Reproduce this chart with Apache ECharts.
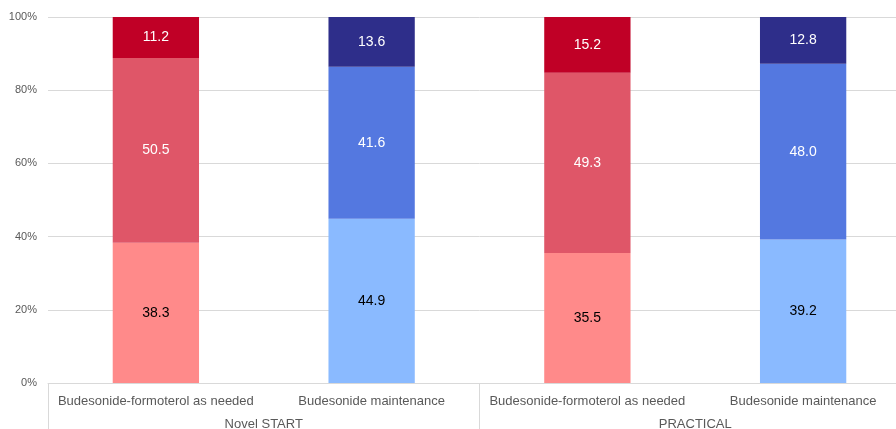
<!DOCTYPE html>
<html>
<head>
<meta charset="utf-8">
<title>Stacked bars</title>
<script src="https://cdn.jsdelivr.net/npm/echarts@6/dist/echarts.min.js"></script>
<style>
  html, body { margin: 0; padding: 0; background: #ffffff; overflow: hidden; }
  #wrap { width: 896px; height: 429px; overflow: hidden; }
  /* the plot runs a little past the right edge, like the original */
  #main { width: 911px; height: 429px; }
</style>
</head>
<body>
<div id="wrap"><div id="main"></div></div>
<script type="text/javascript">
  // categories and groups
  var categories = ['Budesonide-formoterol as needed', 'Budesonide maintenance',
                    'Budesonide-formoterol as needed', 'Budesonide maintenance'];
  var groups = ['Novel START', 'PRACTICAL'];

  // segment values per bar (bottom, middle, top)
  var bottomVals = [38.3, 44.9, 35.5, 39.2];
  var middleVals = [50.5, 41.6, 49.3, 48.0];
  var topVals    = [11.2, 13.6, 15.2, 12.8];

  // colours per bar, per segment
  var bottomColors = ['#ff8a8a', '#8abaff', '#ff8a8a', '#8abaff'];
  var middleColors = ['#df5668', '#5478e0', '#df5668', '#5478e0'];
  var topColors    = ['#c00026', '#2e2e8a', '#c00026', '#2e2e8a'];

  var myChart = echarts.init(document.getElementById('main'), null, {renderer: 'canvas'});

  // 100% stacking: normalise each bar to its total
  function makeData(vals, colors) {
    return vals.map(function (v, i) {
      var total = bottomVals[i] + middleVals[i] + topVals[i];
      return { value: v / total * 100, raw: v, itemStyle: { color: colors[i] } };
    });
  }

  function seg(name, vals, colors, labelColor) {
    return {
      name: name,
      type: 'bar',
      stack: 'all',
      barWidth: '40%',
      xAxisIndex: 0,
      data: makeData(vals, colors),
      label: {
        show: true,
        position: 'inside',
        color: labelColor,
        fontSize: 14,
        fontFamily: 'Liberation Sans, Arial, sans-serif',
        formatter: function (p) { return p.data.raw.toFixed(1); }
      }
    };
  }

  var option = {
    animation: false,
    grid: { left: 48, right: 0, top: 17, bottom: 46, outerBoundsMode: 'none' },
    xAxis: [
      {
        type: 'category',
        data: categories,
        position: 'bottom',
        axisLine: { show: false },
        axisTick: { show: false },
        axisLabel: {
          interval: 0,
          color: '#595959', fontSize: 13, margin: 12,
          fontFamily: 'Liberation Sans, Arial, sans-serif'
        }
      },
      {
        type: 'category',
        data: groups,
        position: 'bottom',
        axisLine: { show: true, lineStyle: { color: '#d9d9d9', width: 1 } },
        axisTick: { show: true, length: 46, lineStyle: { color: '#d9d9d9' } },
        axisLabel: {
          interval: 0,
          color: '#595959', fontSize: 13, margin: 35,
          fontFamily: 'Liberation Sans, Arial, sans-serif'
        }
      }
    ],
    yAxis: {
      type: 'value',
      min: 0,
      max: 100,
      interval: 20,
      axisLine: { show: false },
      axisTick: { show: false },
      splitLine: { lineStyle: { color: '#d9d9d9', width: 1 } },
      axisLabel: {
        color: '#595959', fontSize: 11, margin: 11,
        fontFamily: 'Liberation Sans, Arial, sans-serif',
        formatter: '{value}%'
      }
    },
    series: [
      seg('bottom', bottomVals, bottomColors, '#000000'),
      seg('middle', middleVals, middleColors, '#ffffff'),
      seg('top', topVals, topColors, '#ffffff')
    ]
  };

  myChart.setOption(option);
</script>
</body>
</html>
